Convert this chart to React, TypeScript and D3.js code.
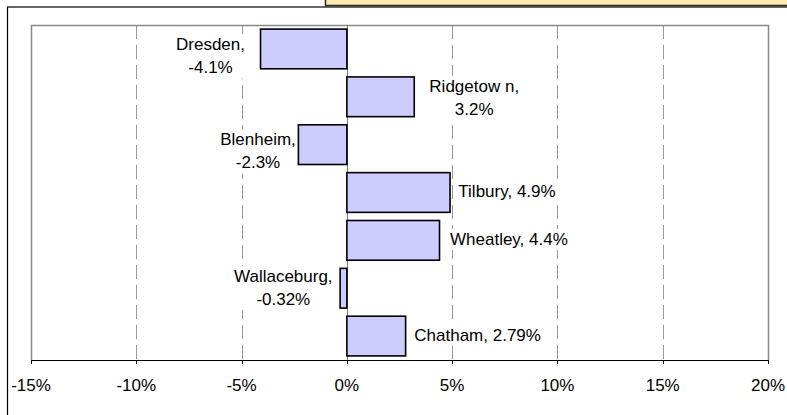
import React, { useEffect, useRef } from "react";
import * as d3 from "d3";

const categories = ["Dresden", "Ridgetow n", "Blenheim", "Tilbury", "Wheatley", "Wallaceburg", "Chatham"];
const values = [-4.1, 3.2, -2.3, 4.9, 4.4, -0.32, 2.79];
const tickValues = [-15, -10, -5, 0, 5, 10, 15, 20];

// label layout (not data)
const labelWrap = [true, true, true, false, false, true, false];
const labelDx = [-50, 60, -40.4, 8.3, 10.5, -56.8, 8.7];
const labelDy = [1.1, -5.1, 0.4, 4.8, 4.6, -6.5, 4.5];

const W = 787;
const H = 415;
const FONT = "'Liberation Sans', Arial, sans-serif";

export default function App() {
  const ref = useRef<SVGSVGElement | null>(null);

  useEffect(() => {
    const svg = d3.select(ref.current);
    svg.selectAll("*").remove();

    const left = 31, right = 768, top = 25, bottom = 360;
    const x = d3.scaleLinear().domain([-15, 20]).range([left, right]);
    const y = d3
      .scaleBand<string>()
      .domain(categories)
      .range([top, bottom])
      .paddingInner(0.17)
      .paddingOuter(0.085);

    svg.append("rect").attr("width", W).attr("height", H).attr("fill", "#fff");

    // yellow note box at top
    svg
      .append("rect")
      .attr("x", 325.5)
      .attr("y", -3)
      .attr("width", 500)
      .attr("height", 8.5)
      .attr("fill", "#FCE9AE")
      .attr("stroke", "#2a2a2a")
      .attr("stroke-width", 1.5);

    // outer chart border
    svg
      .append("rect")
      .attr("x", 7.5)
      .attr("y", 7)
      .attr("width", 800)
      .attr("height", 420)
      .attr("fill", "none")
      .attr("stroke", "#000")
      .attr("stroke-width", 1.2);

    // gridlines
    const grid = svg.append("g");
    grid
      .selectAll("line")
      .data(tickValues.filter((t) => t !== -15 && t !== 20 && t !== 0))
      .join("line")
      .attr("x1", (d) => Math.round(x(d)) + 0.5)
      .attr("x2", (d) => Math.round(x(d)) + 0.5)
      .attr("y1", top)
      .attr("y2", bottom)
      .attr("stroke", "#9a9a9a")
      .attr("stroke-width", 1)
      .attr("stroke-dasharray", "14,6");

    // plot border top/left/right
    svg
      .append("path")
      .attr("d", `M${left + 0.5},${bottom} V${top + 0.5} H${right + 0.5} V${bottom}`)
      .attr("fill", "none")
      .attr("stroke", "#888")
      .attr("stroke-width", 1.5);

    // zero line
    svg
      .append("line")
      .attr("x1", Math.round(x(0)) + 0.5)
      .attr("x2", Math.round(x(0)) + 0.5)
      .attr("y1", top)
      .attr("y2", bottom)
      .attr("stroke", "#777")
      .attr("stroke-width", 1);

    // data labels (under bars)
    const lg = svg.append("g");
    values.forEach((v, i) => {
      const cy = y(categories[i])! + y.bandwidth() / 2;
      const xe = x(v);
      const g = lg.append("g");
      const bg = g.append("rect").attr("fill", "#fff");
      const t = g
        .append("text")
        .attr("font-family", FONT)
        .attr("font-size", 17)
        .attr("fill", "#000");
      const valText = `${v}%`;
      if (labelWrap[i]) {
        const cx = xe + labelDx[i];
        t.attr("text-anchor", "middle");
        t.append("tspan").attr("x", cx).attr("y", cy + labelDy[i]).text(`${categories[i]},`);
        t.append("tspan").attr("x", cx).attr("y", cy + labelDy[i] + 23.3).text(valText);
      } else {
        t.attr("text-anchor", "start")
          .attr("x", xe + labelDx[i])
          .attr("y", cy + labelDy[i])
          .text(`${categories[i]}, ${valText}`);
      }
      const node = t.node() as SVGTextElement;
      const bb = node.getBBox();
      bg.attr("x", bb.x - 3)
        .attr("y", bb.y - 1)
        .attr("width", bb.width + 6)
        .attr("height", bb.height + 2);
    });

    // bars
    svg
      .append("g")
      .selectAll("rect")
      .data(values)
      .join("rect")
      .attr("x", (d) => x(Math.min(0, d)))
      .attr("y", (_d, i) => y(categories[i])!)
      .attr("width", (d) => Math.abs(x(d) - x(0)))
      .attr("height", y.bandwidth())
      .attr("fill", "#CCCCFF")
      .attr("stroke", "#000")
      .attr("stroke-width", 1.6);

    // x axis
    svg
      .append("line")
      .attr("x1", left)
      .attr("x2", right + 1)
      .attr("y1", bottom + 0.5)
      .attr("y2", bottom + 0.5)
      .attr("stroke", "#000")
      .attr("stroke-width", 1.2);
    svg
      .append("g")
      .selectAll("line")
      .data(tickValues)
      .join("line")
      .attr("x1", (d) => Math.round(x(d)) + 0.5)
      .attr("x2", (d) => Math.round(x(d)) + 0.5)
      .attr("y1", bottom)
      .attr("y2", bottom + 4)
      .attr("stroke", "#000");
    svg
      .append("g")
      .selectAll("text")
      .data(tickValues)
      .join("text")
      .attr("x", (d) => x(d))
      .attr("y", 391)
      .attr("text-anchor", "middle")
      .attr("font-family", FONT)
      .attr("font-size", 17)
      .attr("fill", "#000")
      .text((d) => `${d}%`);
  }, []);

  return (
    <div style={{ position: "fixed", left: 0, top: 0 }}>
      <svg ref={ref} width={W} height={H} style={{ display: "block" }} />
    </div>
  );
}
